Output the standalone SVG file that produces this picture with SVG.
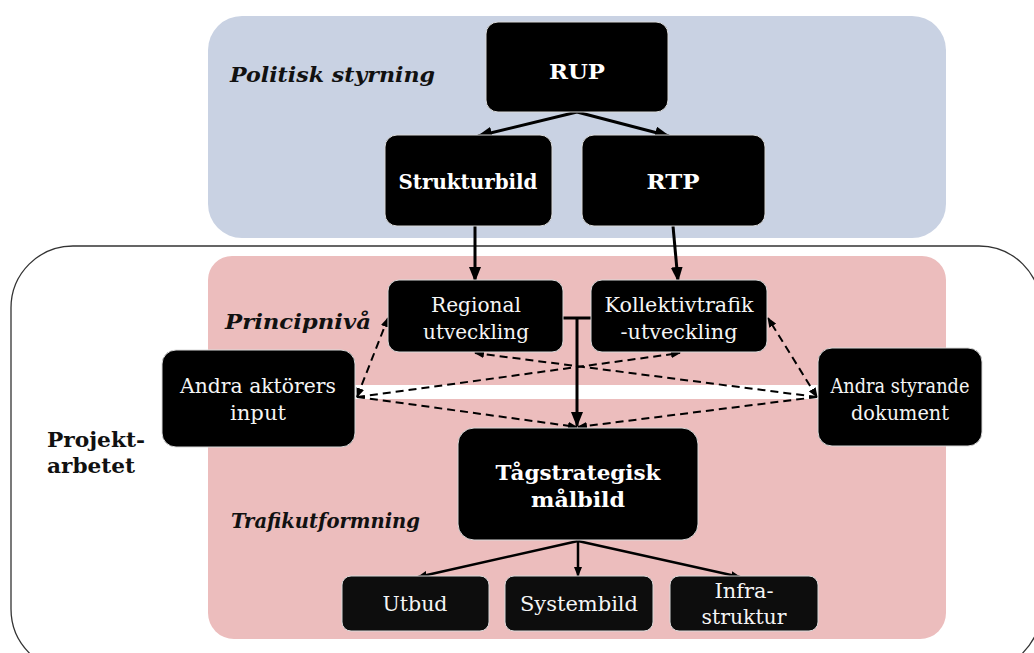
<svg xmlns="http://www.w3.org/2000/svg" width="1034" height="653" viewBox="0 0 1034 653">
<defs>
<marker id="ah" markerUnits="userSpaceOnUse" markerWidth="15" markerHeight="12" refX="14" refY="6" orient="auto">
<path d="M0,0 L15,6 L0,12 Z" fill="#000"/>
</marker>
<marker id="ahs" markerUnits="userSpaceOnUse" markerWidth="10" markerHeight="8" refX="9" refY="4" orient="auto-start-reverse">
<path d="M0,0 L10,4 L0,8 Z" fill="#000"/>
</marker>
<style>
.node{fill:#000;stroke:#d9d9d9;stroke-width:1}
.node2{fill:#0d0d0d;stroke:#d9d9d9;stroke-width:1}
.t{font-family:"DejaVu Serif","Liberation Serif",serif;fill:#f5f5f5;text-anchor:middle;font-size:20.5px}
.tb{font-family:"DejaVu Serif","Liberation Serif",serif;fill:#fff;text-anchor:middle;font-size:20.5px;font-weight:bold}
.lab{font-family:"DejaVu Serif","Liberation Serif",serif;fill:#111;font-size:21px;font-weight:bold;font-style:italic}
.labn{font-family:"DejaVu Serif","Liberation Serif",serif;fill:#111;font-size:21px;font-weight:bold}
.solid{stroke:#000;stroke-width:3;fill:none}
.thin{stroke:#000;stroke-width:2.5;fill:none}
.dash{stroke:#000;stroke-width:2;fill:none;stroke-dasharray:8 5}
</style>
</defs>
<g id="background">
<rect x="208" y="16" width="738" height="222" rx="34" fill="#c9d2e3"/>
<rect x="11" y="246" width="1030" height="425" rx="62" fill="#fff" stroke="#333" stroke-width="1.3"/>
<rect x="208" y="256" width="738" height="129" rx="24" fill="#ecbdbd"/>
<rect x="208" y="399" width="738" height="240" rx="26" fill="#ecbdbd"/>
</g>
<g id="labels">
<text class="lab" x="230" y="82" textLength="205" lengthAdjust="spacingAndGlyphs">Politisk styrning</text>
<text class="lab" x="225" y="329" textLength="146" lengthAdjust="spacingAndGlyphs">Principnivå</text>
<text class="lab" x="231" y="528" textLength="189" lengthAdjust="spacingAndGlyphs">Trafikutformning</text>
<text class="labn" x="47" y="447" textLength="98" lengthAdjust="spacingAndGlyphs">Projekt-</text>
<text class="labn" x="47" y="473" textLength="88" lengthAdjust="spacingAndGlyphs">arbetet</text>
</g>
<g id="connectors">
<line class="solid" x1="577" y1="112" x2="478" y2="136" marker-end="url(#ah)"/>
<line class="solid" x1="577" y1="112" x2="669" y2="136" marker-end="url(#ah)"/>
<line class="solid" x1="475" y1="226" x2="475" y2="281" marker-end="url(#ah)"/>
<line class="solid" x1="673" y1="226" x2="678" y2="281" marker-end="url(#ah)"/>
<line class="solid" x1="563" y1="318" x2="591" y2="318"/>
<line class="solid" x1="577" y1="318" x2="577" y2="426" marker-end="url(#ah)"/>
<line class="dash" x1="357" y1="397" x2="388" y2="318" marker-start="url(#ahs)" marker-end="url(#ahs)"/>
<line class="dash" x1="357" y1="397" x2="680" y2="353" marker-end="url(#ahs)"/>
<line class="dash" x1="357" y1="397" x2="577" y2="427" marker-end="url(#ahs)"/>
<line class="dash" x1="817" y1="397" x2="475" y2="353" marker-end="url(#ahs)"/>
<line class="dash" x1="817" y1="397" x2="578" y2="427" marker-end="url(#ahs)"/>
<line class="dash" x1="817" y1="397" x2="768" y2="318" marker-start="url(#ahs)" marker-end="url(#ahs)"/>
<line class="thin" x1="578" y1="541" x2="418" y2="577" marker-end="url(#ahs)"/>
<line class="thin" x1="578" y1="541" x2="578" y2="576" marker-end="url(#ahs)"/>
<line class="thin" x1="578" y1="541" x2="740" y2="577" marker-end="url(#ahs)"/>
</g>
<g id="rup"><rect class="node" x="486" y="22" width="182" height="90" rx="12"/><text class="tb" x="577" y="79" textLength="56" lengthAdjust="spacingAndGlyphs">RUP</text></g>
<g id="strukturbild"><rect class="node" x="385" y="135" width="167" height="91" rx="12"/><text class="tb" x="468" y="189" textLength="139" lengthAdjust="spacingAndGlyphs">Strukturbild</text></g>
<g id="rtp"><rect class="node" x="582" y="135" width="183" height="91" rx="12"/><text class="tb" x="673" y="189" textLength="53" lengthAdjust="spacingAndGlyphs">RTP</text></g>
<g id="regional"><rect class="node" x="388" y="280" width="175" height="72" rx="11"/><text class="t" x="476" y="312" textLength="90" lengthAdjust="spacingAndGlyphs">Regional</text><text class="t" x="476" y="339" textLength="106" lengthAdjust="spacingAndGlyphs">utveckling</text></g>
<g id="kollektivtrafik"><rect class="node" x="591" y="280" width="176" height="72" rx="11"/><text class="t" x="679" y="312" textLength="149" lengthAdjust="spacingAndGlyphs">Kollektivtrafik</text><text class="t" x="679" y="339" textLength="117" lengthAdjust="spacingAndGlyphs">-utveckling</text></g>
<g id="andra-aktorer"><rect class="node" x="162" y="350" width="193" height="97" rx="14"/><text class="t" x="258" y="393" textLength="156" lengthAdjust="spacingAndGlyphs">Andra aktörers</text><text class="t" x="258" y="420" textLength="56" lengthAdjust="spacingAndGlyphs">input</text></g>
<g id="andra-styrande"><rect class="node" x="818" y="348" width="164" height="98" rx="14"/><text class="t" x="900" y="393" textLength="139" lengthAdjust="spacingAndGlyphs">Andra styrande</text><text class="t" x="900" y="420" textLength="98" lengthAdjust="spacingAndGlyphs">dokument</text></g>
<g id="tagstrategisk"><rect class="node" x="458" y="428" width="240" height="112" rx="16"/><text class="tb" x="578" y="480" font-size="22.5" textLength="165" lengthAdjust="spacingAndGlyphs">Tågstrategisk</text><text class="tb" x="578" y="507" font-size="22.5" textLength="94" lengthAdjust="spacingAndGlyphs">målbild</text></g>
<g id="utbud"><rect class="node2" x="342" y="576" width="147" height="55" rx="9"/><text class="t" x="415" y="611" textLength="65" lengthAdjust="spacingAndGlyphs">Utbud</text></g>
<g id="systembild"><rect class="node2" x="505" y="576" width="148" height="55" rx="9"/><text class="t" x="579" y="611" textLength="118" lengthAdjust="spacingAndGlyphs">Systembild</text></g>
<g id="infrastruktur"><rect class="node2" x="670" y="576" width="148" height="55" rx="9"/><text class="t" x="744" y="598" textLength="59" lengthAdjust="spacingAndGlyphs">Infra-</text><text class="t" x="744" y="624" textLength="85" lengthAdjust="spacingAndGlyphs">struktur</text></g>
</svg>
